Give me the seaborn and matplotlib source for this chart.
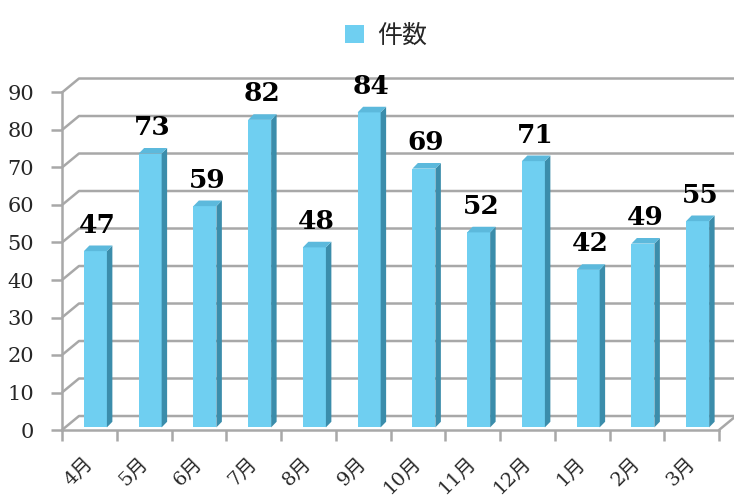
import matplotlib
matplotlib.use("Agg")
import matplotlib.pyplot as plt
from matplotlib.patches import Polygon, Patch
from matplotlib.transforms import ScaledTranslation
import numpy as np
import pandas as pd
import seaborn as sns

months = ['4月', '5月', '6月', '7月', '8月', '9月', '10月', '11月', '12月', '1月', '2月', '3月']
counts = [47, 73, 59, 82, 48, 84, 69, 52, 71, 42, 49, 55]
legend_label = '件数'

df = pd.DataFrame({'月': months, legend_label: counts})

sns.set_style('white')
plt.rcParams['font.family'] = ['DejaVu Serif', 'Noto Sans CJK JP']

front_c = '#6fcff1'
side_c = '#3b8dab'
top_c = '#5cb9dc'
grid_c = '#a8a8a8'

fig = plt.figure(figsize=(7.34, 5.0), dpi=100)
ax = fig.add_axes([62 / 734, 70 / 500, (719 - 62) / 734, 337.5 / 500])

sns.barplot(data=df, x='月', y=legend_label, color=front_c, saturation=1,
            width=0.42, ax=ax, zorder=3, linewidth=0)

ax.set_xlim(-0.5, 11.5)
ax.set_ylim(0, 90)

# 3D look: back wall offset
wdx, wdy = 0.31, 3.73
xr = 11.5 + 0.31
for v in range(0, 91, 10):
    ax.plot([-0.5, -0.5 + wdx, xr], [v, v + wdy, v + wdy], color=grid_c,
            lw=1.8, zorder=1, clip_on=False, solid_capstyle='butt')
ax.plot([11.5, 11.5 + wdx], [0, wdy], color=grid_c, lw=1.8, zorder=1, clip_on=False)

# shift bars into middle of depth, add side and top faces
bdx, bdy = 0.1, 1.5
shift_x, shift_y = 0.11, 0.7
for p, v in zip(ax.patches, counts):
    p.set_x(p.get_x() + shift_x)
    p.set_y(shift_y)
    x0 = p.get_x()
    x1 = x0 + p.get_width()
    y0 = shift_y
    y1 = shift_y + v
    side = Polygon([(x1, y0), (x1 + bdx, y0 + bdy), (x1 + bdx, y1 + bdy), (x1, y1)],
                   closed=True, facecolor=side_c, edgecolor='none', zorder=3)
    top = Polygon([(x0, y1), (x1, y1), (x1 + bdx, y1 + bdy), (x0 + bdx, y1 + bdy)],
                  closed=True, facecolor=top_c, edgecolor='none', zorder=3)
    ax.add_patch(side)
    ax.add_patch(top)
    ax.text((x0 + x1) / 2 + 0.04, y1 + bdy + 3.4, str(v), ha='center', va='baseline',
            fontsize=19, fontweight='bold', color='black', zorder=5)

# axes styling
for s in ['top', 'right']:
    ax.spines[s].set_visible(False)
for s in ['left', 'bottom']:
    ax.spines[s].set_color(grid_c)
    ax.spines[s].set_linewidth(1.8)
    ax.spines[s].set_zorder(2)

ax.set_yticks(range(0, 91, 10))
ax.tick_params(axis='y', which='major', direction='out', length=8, width=1.8,
               color=grid_c, pad=12, labelsize=15, left=True)
ax.set_xticks(np.arange(-0.5, 12, 1), minor=True)
ax.tick_params(axis='x', which='minor', direction='out', length=8, width=1.8,
               color=grid_c, bottom=True)
ax.tick_params(axis='x', which='major', length=0, pad=17, labelsize=14)
ax.set_xticks(range(len(months)))
ax.set_xticklabels(months, rotation=45, ha='right', rotation_mode='anchor')
for lab in ax.get_xticklabels():
    lab.set_transform(lab.get_transform() + ScaledTranslation(-0.06, 0, fig.dpi_scale_trans))
ax.set_xlabel('')
ax.set_ylabel('')
ax.grid(False)

fig.legend(handles=[Patch(facecolor=front_c, edgecolor='none')], labels=[legend_label],
           loc='upper center', bbox_to_anchor=(0.526, 1.0), frameon=False,
           handlelength=0.75, handleheight=0.75, handletextpad=0.5,
           prop={'family': 'Noto Sans CJK JP', 'size': 18})

fig.savefig('out.png', dpi=100)
